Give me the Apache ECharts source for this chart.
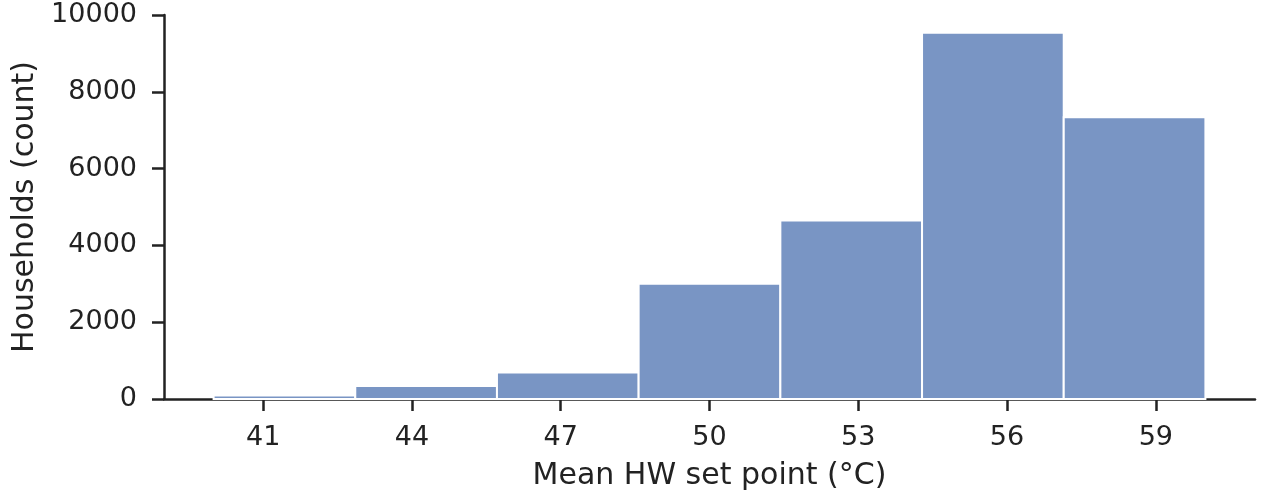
<!DOCTYPE html>
<html>
<head>
<meta charset="utf-8">
<script src="https://cdn.jsdelivr.net/npm/echarts@6/dist/echarts.min.js"></script>
<style>
  html, body { margin: 0; padding: 0; background: #fff; }
  #chart { width: 1261px; height: 499px; }
</style>
</head>
<body>
<div id="chart"></div>
<script>
// histogram bins (°C) and counts
const binEdges = [40, 42.857, 45.714, 48.571, 51.429, 54.286, 57.143, 60];
const counts = [90, 340, 690, 3000, 4650, 9540, 7340];
const xTicks = [41, 44, 47, 50, 53, 56, 59];

const textColor = '#222222';
const fontFamily = 'DejaVu Sans';

const barData = counts.map((c, i) => [binEdges[i], binEdges[i + 1], c]);

const chart = echarts.init(document.getElementById('chart'));

const option = {
  animation: false,
  grid: { left: 164, right: 6, top: 15, bottom: 100 },
  xAxis: {
    type: 'value',
    min: 39,
    max: 61,
    name: 'Mean HW set point (°C)',
    nameLocation: 'middle',
    nameGap: 62,
    nameTextStyle: { color: textColor, fontSize: 30, fontFamily },
    splitLine: { show: false },
    axisLine: { show: true, onZero: false, lineStyle: { color: textColor, width: 2.5 } },
    axisTick: { show: true, length: 12, customValues: xTicks, lineStyle: { color: textColor, width: 2.5 } },
    axisLabel: { customValues: xTicks, color: textColor, fontSize: 27, fontFamily, margin: 25 }
  },
  yAxis: {
    type: 'value',
    min: 0,
    max: 10000,
    interval: 2000,
    name: 'Households (count)',
    nameLocation: 'middle',
    nameGap: 121,
    nameTextStyle: { color: textColor, fontSize: 30, fontFamily },
    splitLine: { show: false },
    axisLine: { show: true, lineStyle: { color: textColor, width: 2.5 } },
    axisTick: { show: true, length: 12, lineStyle: { color: textColor, width: 2.5 } },
    axisLabel: { color: textColor, fontSize: 27, fontFamily, margin: 27, formatter: v => String(v) }
  },
  series: [
    {
      type: 'custom',
      data: barData,
      encode: { x: [0, 1], y: 2 },
      renderItem: (params, api) => {
        const p0 = api.coord([api.value(0), api.value(2)]);
        const p1 = api.coord([api.value(1), 0]);
        return {
          type: 'rect',
          shape: { x: p0[0], y: p0[1], width: p1[0] - p0[0], height: p1[1] - p0[1] },
          style: { fill: 'rgb(121,149,196)', stroke: '#ffffff', lineWidth: 2 }
        };
      }
    }
  ]
};

chart.setOption(option);
</script>
</body>
</html>
